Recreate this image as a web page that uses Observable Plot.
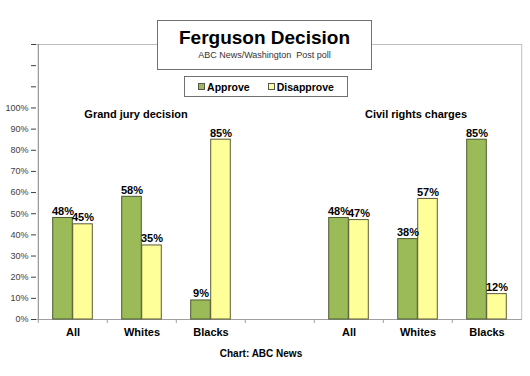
<!DOCTYPE html>
<html>
<head>
<meta charset="utf-8">
<script src="https://cdn.jsdelivr.net/npm/d3@7"></script>
<script src="https://cdn.jsdelivr.net/npm/@observablehq/plot@0.6"></script>
<style>
  html, body { margin: 0; padding: 0; background: #fff; }
  #wrap { position: relative; width: 530px; height: 376px; font-family: "Liberation Sans", Arial, sans-serif; overflow: hidden; }
  #chart { position: absolute; left: 0; top: 0; }
  .abs { position: absolute; }
  #titlebox { left: 157px; top: 20px; width: 213px; height: 48px; border: 1px solid #707070; background: #fff; }
  #title { left: 157px; top: 28px; width: 215px; text-align: center; font-size: 19px; line-height: 19px; font-weight: bold; color: #000; }
  #subtitle { left: 157px; top: 51px; width: 215px; text-align: center; font-size: 9px; line-height: 9px; color: #333; white-space: pre; }
  #legend { left: 184px; top: 76px; width: 162px; height: 19px; border: 1px solid #707070; background: #fff;
            display: flex; align-items: center; justify-content: center; gap: 18px; font-size: 10.5px; font-weight: bold; color: #000; }
  .item { display: flex; align-items: center; gap: 2px; }
  .sw { width: 5px; height: 5px; border: 1px solid #555; display: inline-block; }
  #caption { left: 0; top: 349px; width: 522px; text-align: center; font-size: 10px; line-height: 10px; font-weight: bold; color: #000; }
</style>
</head>
<body>
<div id="wrap">
  <div id="chart"></div>
  <div class="abs" id="titlebox"></div>
  <div class="abs" id="title"></div>
  <div class="abs" id="subtitle"></div>
  <div class="abs" id="legend"></div>
  <div class="abs" id="caption"></div>
</div>
<script>
// ---- data ----
const title = "Ferguson Decision";
const subtitle = "ABC News/Washington  Post poll";
const caption = "Chart: ABC News";
const panels = ["Grand jury decision", "Civil rights charges"];
const groups = ["All", "Whites", "Blacks"];
const seriesNames = ["Approve", "Disapprove"];
const seriesColors = ["#9BBB59", "#FFFF99"];
const approveGrand = [48, 58, 9];
const disapproveGrand = [45, 35, 85];
const approveCivil = [48, 38, 85];
const disapproveCivil = [47, 57, 12];
const yTicks = [0, 10, 20, 30, 40, 50, 60, 70, 80, 90, 100, 110, 120, 130];
const yTickLabels = ["0%","10%","20%","30%","40%","50%","60%","70%","80%","90%","100%","","",""];

// ---- slots: 3 groups, gap, 3 groups ----
const slots = [
  ...groups.map(g => "g-" + g),
  "gap",
  ...groups.map(g => "c-" + g)
];
const slotLabel = s => s === "gap" ? "" : s.slice(2);

const rows = [];
groups.forEach((g, i) => {
  rows.push({slot: "g-" + g, series: "Approve", value: approveGrand[i]});
  rows.push({slot: "g-" + g, series: "Disapprove", value: disapproveGrand[i]});
  rows.push({slot: "c-" + g, series: "Approve", value: approveCivil[i]});
  rows.push({slot: "c-" + g, series: "Disapprove", value: disapproveCivil[i]});
});
const appr = rows.filter(d => d.series === "Approve");
const disa = rows.filter(d => d.series === "Disapprove");

// ---- layout ----
const W = 530, H = 376, mL = 36, mR = 8, mT = 44, mB = 57;
const step = (W - mL - mR) / slots.length;
const barW = 20;
const font = "Liberation Sans, Arial, sans-serif";

const chart = Plot.plot({
  width: W, height: H,
  marginLeft: mL, marginRight: mR, marginTop: mT, marginBottom: mB,
  style: {fontFamily: font, background: "transparent"},
  x: {type: "band", domain: slots, padding: 0, axis: null, label: null},
  y: {domain: [0, 130], axis: null, label: null},
  marks: [
    Plot.ruleY([130], {stroke: "#bfbfbf"}),
    Plot.ruleX([slots[slots.length - 1]], {dx: step / 2, stroke: "#bfbfbf"}),
    Plot.ruleY([0], {stroke: "#a0a0a0"}),
    Plot.axisY({
      ticks: yTicks, label: null,
      tickFormat: d => yTickLabels[yTicks.indexOf(d)],
      tickSize: 5, tickPadding: 3, fontSize: 9, color: "#404040"
    }),
    Plot.ruleX([slots[0]], {dx: -step / 2, stroke: "#808080"}),
    Plot.axisX({
      tickSize: 0, tickPadding: 9, tickFormat: slotLabel, label: null,
      fontSize: 11, fontWeight: "bold", color: "#000"
    }),
    Plot.axisX({
      tickSize: 4, tickFormat: () => "", label: null, dx: -step / 2, stroke: "#a0a0a0"
    }),
    Plot.barY(appr, {
      x: "slot", y: "value", fill: seriesColors[0], stroke: "#4b5a2e", strokeWidth: 1,
      insetLeft: step / 2 - barW, insetRight: step / 2
    }),
    Plot.barY(disa, {
      x: "slot", y: "value", fill: seriesColors[1], stroke: "#5a5a3a", strokeWidth: 1,
      insetLeft: step / 2, insetRight: step / 2 - barW
    }),
    Plot.text(appr, {
      x: "slot", y: "value", text: d => d.value + "%", dx: -barW / 2, dy: -3,
      lineAnchor: "bottom", fontSize: 11, fontWeight: "bold", fill: "#000"
    }),
    Plot.text(disa, {
      x: "slot", y: "value", text: d => d.value + "%", dx: barW / 2, dy: -3,
      lineAnchor: "bottom", fontSize: 11, fontWeight: "bold", fill: "#000"
    }),
    Plot.text([panels[0]], {
      x: () => "g-Whites", text: d => d, dx: -6, frameAnchor: "top", dy: 66,
      fontSize: 11, fontWeight: "bold", fill: "#000"
    }),
    Plot.text([panels[1]], {
      x: () => "c-Whites", text: d => d, dx: -2, frameAnchor: "top", dy: 66,
      fontSize: 11, fontWeight: "bold", fill: "#000"
    })
  ]
});
document.getElementById("chart").appendChild(chart);

document.getElementById("title").textContent = title;
document.getElementById("subtitle").textContent = subtitle;
document.getElementById("caption").textContent = caption;
const legend = document.getElementById("legend");
seriesNames.forEach((s, i) => {
  const it = document.createElement("span");
  it.className = "item";
  const sw = document.createElement("span");
  sw.className = "sw";
  sw.style.background = seriesColors[i];
  it.appendChild(sw);
  const t = document.createElement("span");
  t.textContent = s;
  it.appendChild(t);
  legend.appendChild(it);
});
</script>
</body>
</html>
